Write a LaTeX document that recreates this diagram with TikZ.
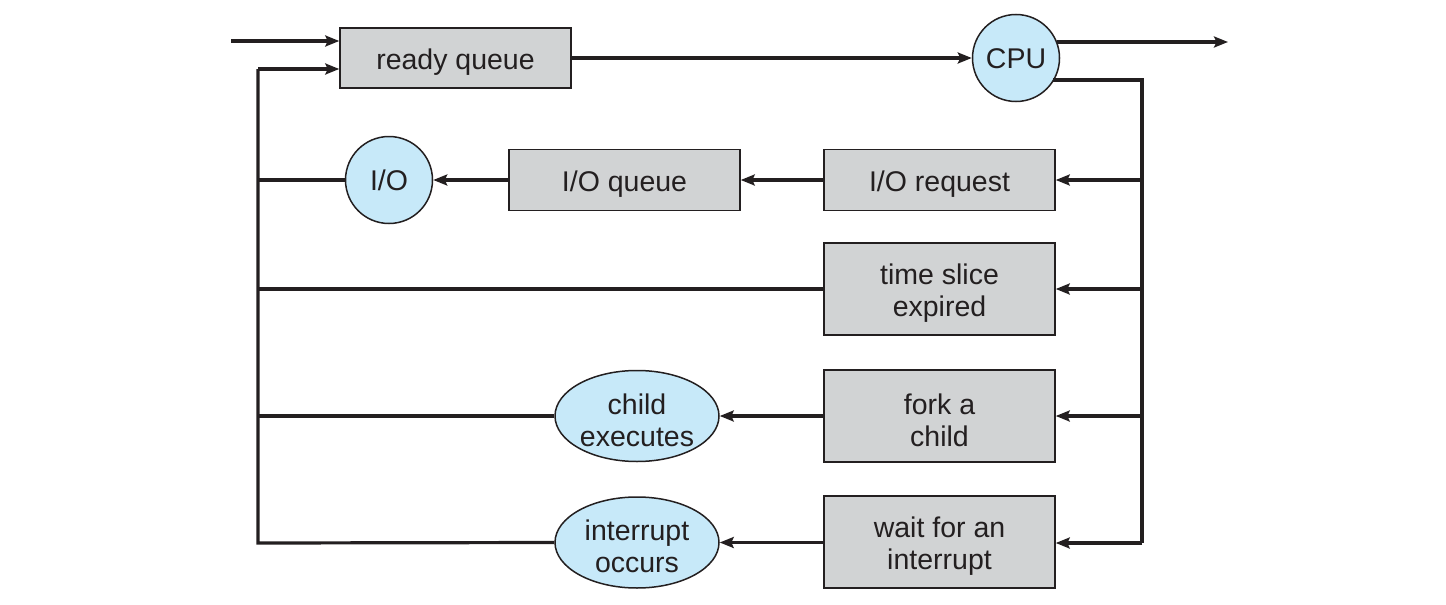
\documentclass[tikz,border=0pt]{standalone}
\usepackage{fontspec}
\setmainfont{Liberation Sans}
\usetikzlibrary{arrows.meta,shapes.geometric}
\definecolor{boxgray}{RGB}{209,211,212}
\definecolor{procblue}{RGB}{199,233,249}
\definecolor{ink}{RGB}{35,31,32}
\begin{document}
\begin{tikzpicture}[x=1pt,y=-1pt,
  every node/.style={font=\fontsize{28.5}{32}\selectfont, text=ink, align=center, inner sep=0pt},
  txt/.style={label={[yshift=-4pt]center:#1}},
  captxt/.style={label={[yshift=-0.5pt]center:#1}},
  queuebox/.style={draw=ink, line width=1.5pt, fill=boxgray, minimum width=231pt},
  devcircle/.style={circle, draw=ink, line width=1.5pt, fill=procblue, minimum size=87pt},
  evoval/.style={ellipse, draw=ink, line width=1.5pt, fill=procblue, minimum width=164pt, minimum height=91pt},
  flow/.style={draw=ink, line width=3.2pt},
  arr/.style={flow, -{Stealth[length=14pt,width=11pt,inset=2.5pt]}}]
\useasboundingbox (0,0) rectangle (1446,605);

% queues and events
\node[queuebox, minimum height=60pt, txt={ready queue}] (rq) at (455.5,58) {};
\node[devcircle, captxt={CPU}] (cpu) at (1016,58) {};
\node[devcircle, captxt={I/O}] (io) at (389,180) {};
\node[queuebox, minimum height=61pt, txt={I/O queue}] (ioq) at (624.5,180) {};
\node[queuebox, minimum height=61pt, txt={I/O request}] (ioreq) at (939.5,180) {};
\node[queuebox, minimum height=92pt, txt={time slice\\expired}] (ts) at (939.5,289) {};
\node[queuebox, minimum height=92pt, txt={fork a\\child}] (fork) at (939.5,416) {};
\node[queuebox, minimum height=92pt, txt={wait for an\\interrupt}] (wait) at (939.5,542) {};
\node[evoval, txt={child\\executes}] (child) at (637,416) {};
\node[evoval, txt={interrupt\\occurs}] (intr) at (637,542.5) {};

% loose ends of the loops
\coordinate (entry) at (231,41);
\coordinate (exit) at (1228,42);
\coordinate (lbus) at (258,543);
\coordinate (rbus) at (1142,543);

% entry, dispatch and exit
\draw[arr] (entry) -- (rq.west |- entry);
\draw[arr] (rq.east) -- (cpu.west);
\draw[arr] (cpu.east |- exit) ++(-3,0) -- (exit);

% from the CPU down the right-hand bus
\draw[flow] (cpu.east |- 0,80) ++(-7,0) -- (1142,80) -- (rbus);
\draw[arr] (rbus |- ioreq) -- (ioreq.east);
\draw[arr] (rbus |- ts) -- (ts.east);
\draw[arr] (rbus |- fork) -- (fork.east);
\draw[arr] (rbus) -- (wait.east |- rbus);

% event handling
\draw[arr] (ioreq.west) -- (ioq.east);
\draw[arr] (ioq.west) -- (io.east);
\draw[arr] (fork.west) -- (child.east);
\draw[arr] (wait.west |- intr) -- (intr.east);

% back up the left-hand bus to the ready queue
\draw[flow] (intr.west) -- (lbus) -- (258,69);
\draw[arr] (258,69) -- (rq.west |- 0,69);
\draw[flow] (io.west) -- (lbus |- io);
\draw[flow] (ts.west) -- (lbus |- ts);
\draw[flow] (child.west) -- (lbus |- child);
\end{tikzpicture}
\end{document}
